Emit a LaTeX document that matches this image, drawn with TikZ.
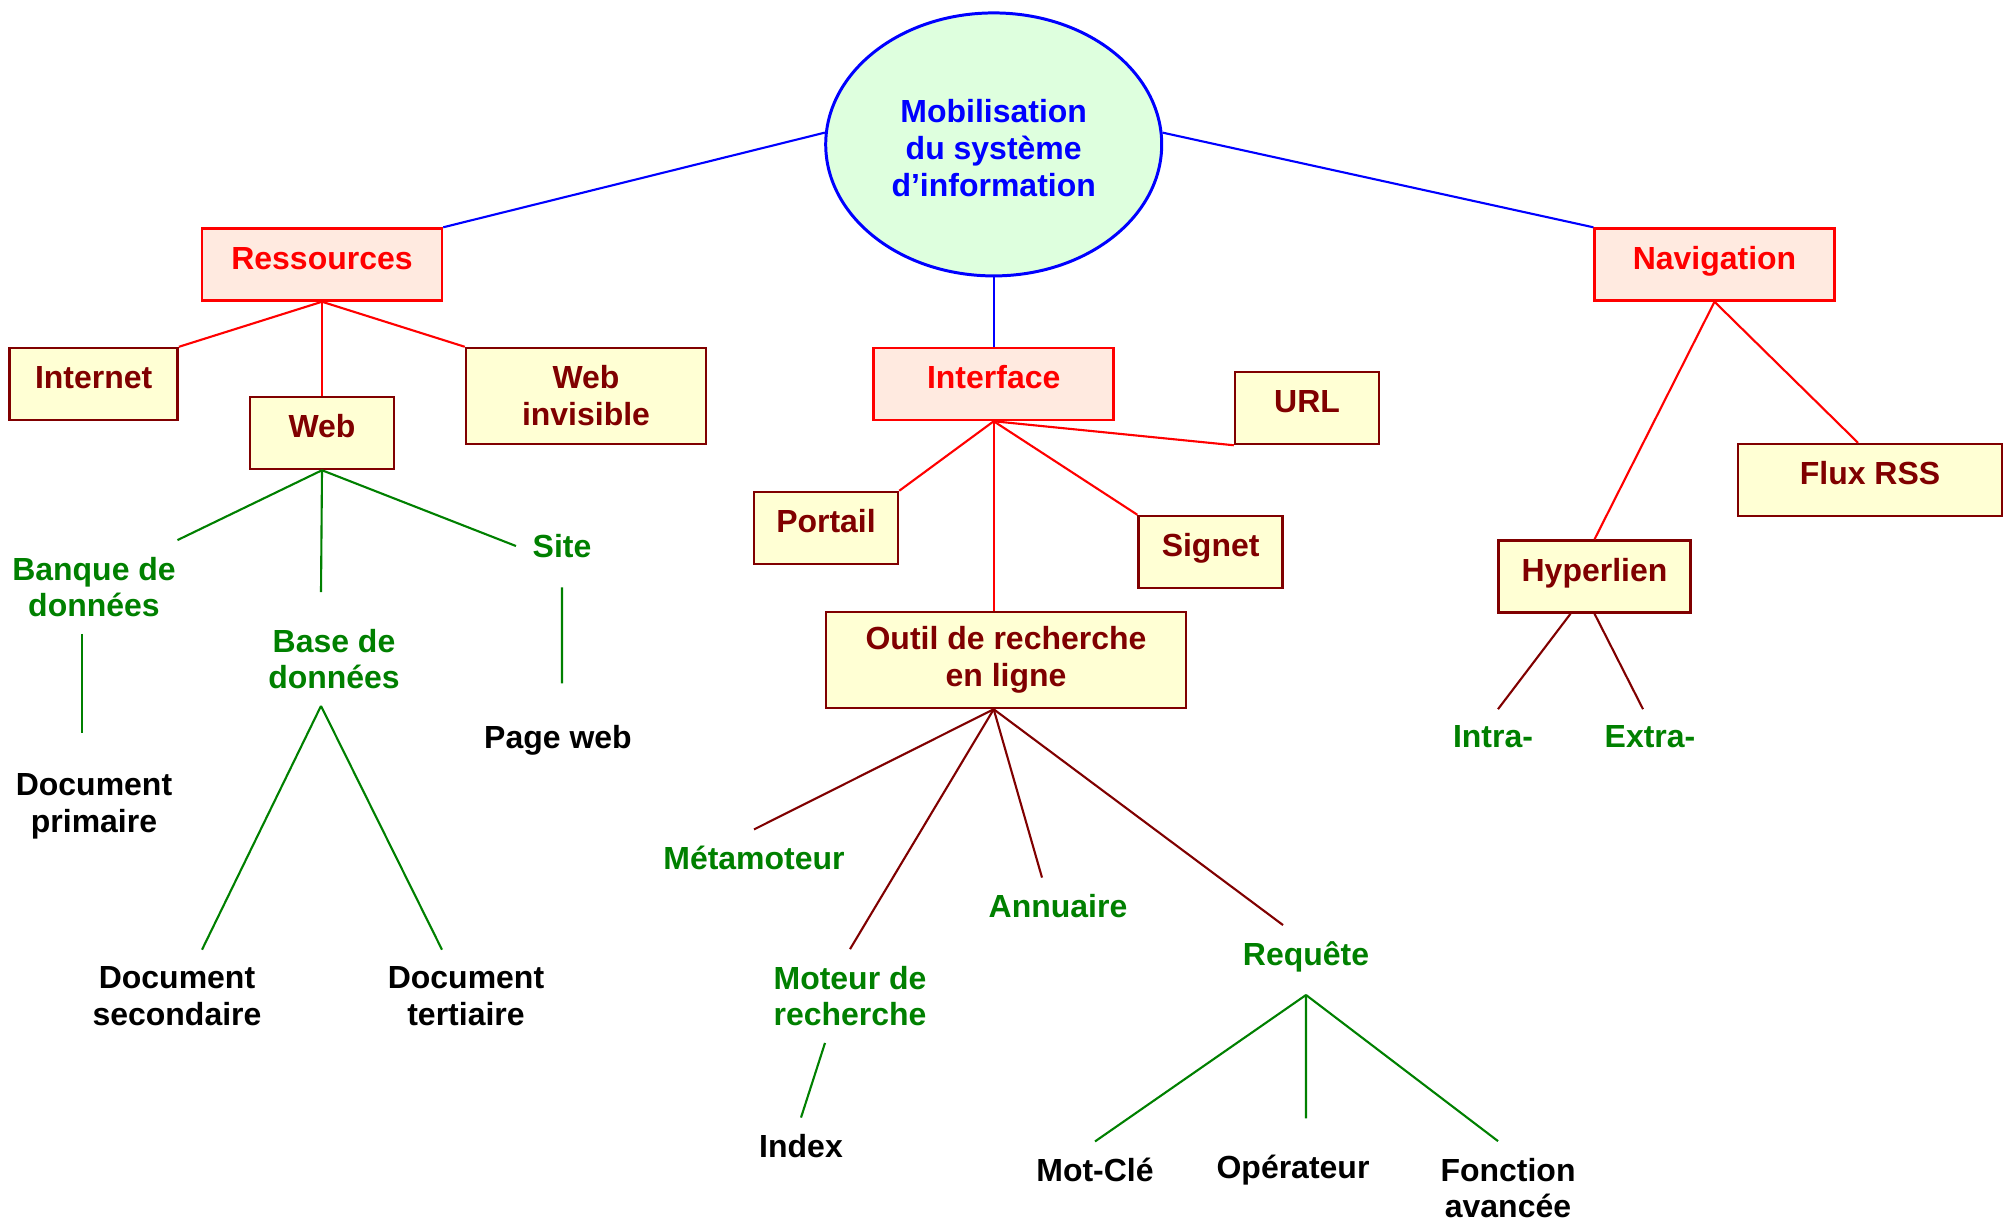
\documentclass[tikz,border=0pt]{standalone}
\usepackage{fontspec}
\setmainfont{Liberation Sans}
\usepackage{tikz}
\usetikzlibrary{shapes.geometric}
\definecolor{bleu}{RGB}{0,0,255}
\definecolor{rouge}{RGB}{255,0,0}
\definecolor{brun}{RGB}{128,0,0}
\definecolor{vertf}{RGB}{0,128,0}
\definecolor{vertpale}{RGB}{222,255,222}
\definecolor{rose}{RGB}{255,234,224}
\definecolor{jaune}{RGB}{255,255,212}
\tikzset{
  txt/.style={font=\bfseries\fontsize{9.1}{10.5}\selectfont,align=center},
  rbox/.style={txt,draw=rouge,fill=rose,text=rouge,line width=0.7pt,minimum height=0.72cm},
  ybox/.style={txt,draw=brun,fill=jaune,text=brun,line width=0.7pt,minimum height=0.72cm},
  sl/.style={text height=0.25cm,text depth=0.154cm},
  vert/.style={txt,text=vertf,inner sep=0.16cm},
  noir/.style={txt,text=black,inner sep=0.16cm},
  lb/.style={bleu,line width=0.6pt},
  lr/.style={rouge,line width=0.6pt},
  lm/.style={brun,line width=0.6pt},
  lv/.style={vertf,line width=0.6pt}
}
\begin{document}
\begin{tikzpicture}
\useasboundingbox (0,0) rectangle (20.13,-12.23);
% centre
\node[txt,ellipse,draw=bleu,fill=vertpale,text=bleu,line width=0.85pt,minimum width=3.36cm,minimum height=2.63cm](mob)at(9.937,-1.444){\rule{0pt}{0.31cm}Mobilisation\\du système\\d’information};
% boites
\node[rbox,sl,minimum width=2.40cm](res)at(3.22,-2.645){Ressources};
\node[rbox,sl,minimum width=2.40cm](inter)at(9.937,-3.84){Interface};
\node[rbox,sl,minimum width=2.40cm](nav)at(17.145,-2.645){Navigation};
\node[ybox,sl,minimum width=1.68cm](internet)at(0.937,-3.84){Internet};
\node[ybox,sl,minimum width=1.44cm](web)at(3.22,-4.33){Web};
\node[ybox,minimum width=2.40cm,minimum height=0.96cm](webinv)at(5.86,-3.96){Web\\invisible};
\node[ybox,sl,minimum width=1.44cm](url)at(13.07,-4.08){URL};
\node[ybox,sl,minimum width=1.44cm](signet)at(12.106,-5.52){Signet};
\node[ybox,sl,minimum width=1.44cm](portail)at(8.26,-5.28){Portail};
\node[ybox,minimum width=3.60cm,minimum height=0.96cm](outil)at(10.06,-6.60){Outil de recherche\\en ligne};
\node[ybox,sl,minimum width=2.64cm](flux)at(18.70,-4.80){Flux RSS};
\node[ybox,sl,minimum width=1.92cm](hyper)at(15.945,-5.765){Hyperlien};
% etiquettes
\node[vert](banque)at(0.94,-5.87){Banque de\\données};
\node[vert](site)at(5.62,-5.46){Site};
\node[vert](base)at(3.34,-6.59){Base de\\données};
\node[vert](meta)at(7.54,-8.58){Métamoteur};
\node[vert](annu)at(10.58,-9.06){Annuaire};
\node[vert](moteur)at(8.50,-9.96){Moteur de\\recherche};
\node[vert](requete)at(13.06,-9.57){Requête};
\node[vert](intra)at(14.93,-7.37){Intra-};
\node[vert](extra)at(16.50,-7.37){Extra-};
\node[noir](docprim)at(0.94,-8.06){Document\\primaire};
\node[noir](pageweb)at(5.58,-7.40){Page web};
\node[noir](docsec)at(1.77,-9.96){Document\\secondaire};
\node[noir](doctert)at(4.66,-9.96){Document\\tertiaire};
\node[noir](index)at(8.01,-11.46){Index};
\node[noir](motcle)at(10.95,-11.70){Mot-Clé};
\node[noir](operateur)at(12.93,-11.70){Opérateur};
\node[noir](fonction)at(15.08,-11.88){Fonction\\avancée};
% liens
\draw[lb](mob.176)--(res.north east);
\draw[lb](mob.4)--(nav.north west);
\draw[lb](mob.south)--(inter.north);
\draw[lr](res.south)--(internet.north east);
\draw[lr](res.south)--(web.north);
\draw[lr](res.south)--(webinv.north west);
\draw[lr](inter.south)--(portail.north east);
\draw[lr](inter.south)--(inter.south|-outil.north);
\draw[lr](inter.south)--(signet.north west);
\draw[lr](inter.south)--(url.south west);
\draw[lr](nav.south)--(hyper.north);
\draw[lr](nav.south)--([xshift=-1.2mm]flux.north);
\draw[lv](web.south)--([xshift=-1.5mm]banque.north east);
\draw[lv](web.south)--([xshift=-1.3mm,yshift=2mm]base.north);
\draw[lv](web.south)--(site.west);
\draw[lv]([xshift=-1.2mm]banque.south)--([xshift=-1.2mm,yshift=2.4mm]docprim.north);
\draw[lv]([yshift=-1.3mm]site.south)--([xshift=0.4mm,yshift=2.5mm]pageweb.north);
\draw[lv]([xshift=-1.3mm]base.south)--([xshift=2.5mm]docsec.north);
\draw[lv]([xshift=-1.3mm]base.south)--([xshift=-2.4mm]doctert.north);
\draw[lm](inter.south|-outil.south)--(meta.north);
\draw[lm](inter.south|-outil.south)--(moteur.north);
\draw[lm](inter.south|-outil.south)--([xshift=-1.6mm]annu.north);
\draw[lm](inter.south|-outil.south)--([xshift=-2.3mm]requete.north);
\draw[lv]([xshift=-2.5mm]moteur.south)--(index.north);
\draw[lv]([yshift=-0.6mm]requete.south)--(motcle.north);
\draw[lv]([yshift=-0.6mm]requete.south)--([xshift=1.3mm,yshift=2mm]operateur.north);
\draw[lv]([yshift=-0.6mm]requete.south)--([xshift=-1mm]fonction.north);
\draw[lm]([xshift=-2.4mm]hyper.south)--([xshift=0.5mm]intra.north);
\draw[lm](hyper.south)--([xshift=-0.7mm]extra.north);
\end{tikzpicture}
\end{document}
